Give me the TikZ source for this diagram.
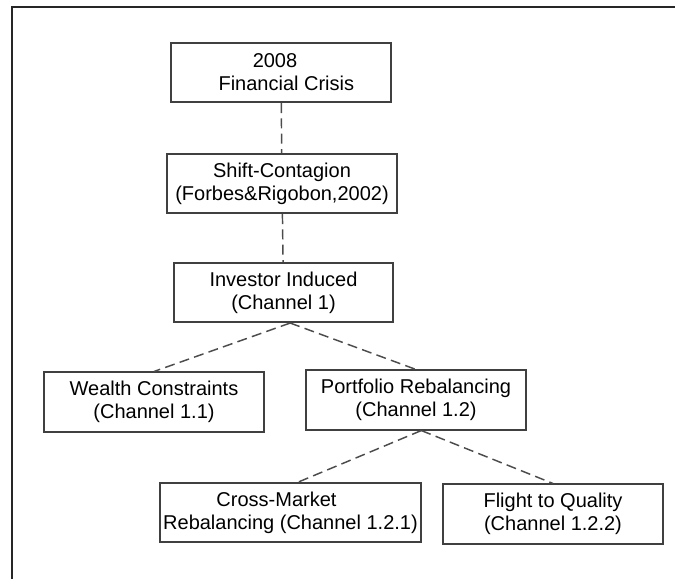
\documentclass[tikz,border=0pt]{standalone}
\usepackage{fontspec}
\setmainfont{Liberation Sans}
\usetikzlibrary{positioning}

\begin{document}
\begin{tikzpicture}[x=0.75pt, y=-0.75pt,
    box/.style={draw=black!75, line width=1.3pt, align=center, inner sep=0pt,
      minimum width=165pt, minimum height=44.5pt,
      font=\fontsize{15}{17.2}\selectfont},
    link/.style={draw=black!70, line width=1.1pt, dash pattern=on 7.5pt off 4pt},
    frame/.style={draw=black!85, line width=1.5pt}]
    \useasboundingbox (0,0) rectangle (675,579);
    \draw[frame] (675,7) -- (12,7) -- (12,579);
    \node[box] (crisis) at (281,72.5) {2008\kern9pt\\\rule{0pt}{0pt}\hspace{8pt}Financial Crisis};
    \node[box, minimum width=172.5pt] (shift) at (282,183.5) {Shift-Contagion\\(Forbes\&Rigobon,2002)};
    \node[box, minimum width=164.25pt] (investor) at (283.5,292.5) {Investor Induced\\(Channel 1)};
    \node[box] (wealth) at (154,402) {Wealth Constraints\\(Channel 1.1)};
    \node[box] (portfolio) at (416,400) {Portfolio Rebalancing\\(Channel 1.2)};
    \node[box, minimum width=195.75pt] (cross) at (290.5,512.5) {Cross-Market\kern21pt\\Rebalancing (Channel 1.2.1)};
    \node[box] (flight) at (553,514) {Flight to Quality\\(Channel 1.2.2)};
    \draw[link] (crisis) -- (shift);
    \draw[link] (shift) -- (investor);
    \draw[link] ([xshift=5pt]investor.south) -- (wealth.north);
    \draw[link] ([xshift=5pt]investor.south) -- (portfolio.north);
    \draw[link] ([xshift=4pt]portfolio.south) -- ([xshift=6pt]cross.north);
    \draw[link] ([xshift=4pt]portfolio.south) -- (flight.north);
  \end{tikzpicture}
\end{document}
